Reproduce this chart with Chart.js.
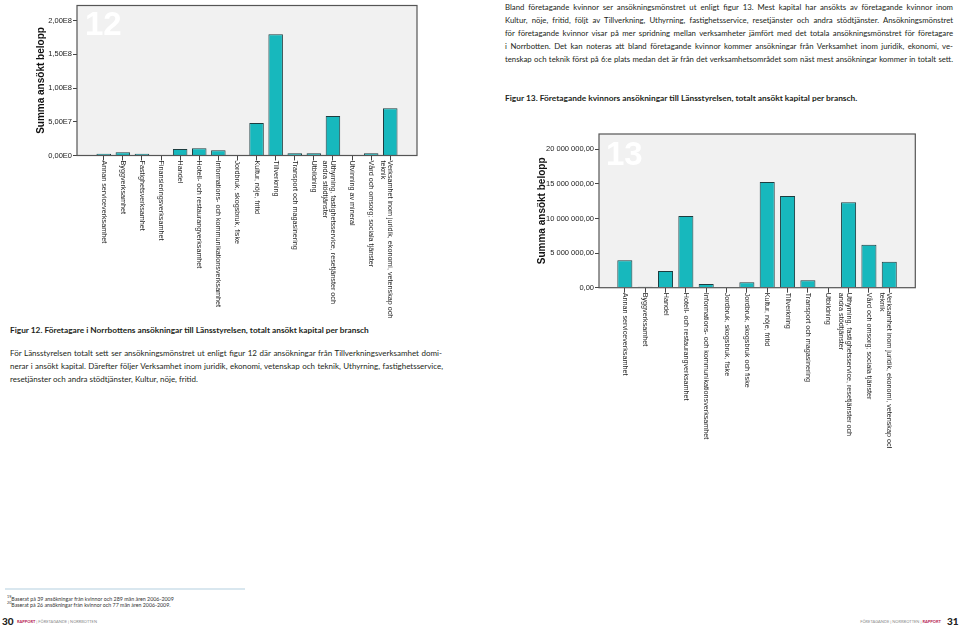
<!DOCTYPE html>
<html><head><meta charset="utf-8">
<script src="https://cdn.jsdelivr.net/npm/chart.js@4/dist/chart.umd.min.js"></script>
<style>
html,body{margin:0;padding:0;background:#fff;width:959px;height:628px;overflow:hidden;position:relative;font-family:Lato,"Noto Sans",sans-serif;color:#231f20}
.t{position:absolute;white-space:nowrap;display:inline-block;line-height:10px}
.ln{font-size:8.6px}
.cap{font-weight:bold;font-size:8.4px}
.fn{font-size:4.8px;line-height:6px;color:#333}
.box{position:absolute}
</style></head><body>

<div class="t ln" style="left:505px;top:2.3px" data-g="a" data-w="448">Bland företagande kvinnor ser ansökningsmönstret ut enligt figur 13. Mest kapital har ansökts av företagande kvinnor inom</div>
<div class="t ln" style="left:505px;top:15.2px" data-g="a" data-w="448">Kultur, nöje, fritid, följt av Tillverkning, Uthyrning, fastighetsservice, resetjänster och andra stödtjänster. Ansökningsmönstret</div>
<div class="t ln" style="left:505px;top:28.1px" data-g="a" data-w="448">för företagande kvinnor visar på mer spridning mellan verksamheter jämfört med det totala ansökningsmönstret för företagare</div>
<div class="t ln" style="left:505px;top:41px" data-g="a" data-w="448">i Norrbotten. Det kan noteras att bland företagande kvinnor kommer ansökningar från Verksamhet inom juridik, ekonomi, ve-</div>
<div class="t ln" style="left:505px;top:53.9px" data-g="a" data-w="448">tenskap och teknik först på 6:e plats medan det är från det verksamhetsområdet som näst mest ansökningar kommer in totalt sett.</div>
<div class="t cap" style="left:505px;top:93px" data-w="352" data-mode="scale">Figur 13. Företagande kvinnors ansökningar till Länsstyrelsen, totalt ansökt kapital per bransch.</div>

<div class="t cap" style="left:10px;top:325px" data-w="358" data-mode="scale">Figur 12. Företagare i Norrbottens ansökningar till Länsstyrelsen, totalt ansökt kapital per bransch</div>
<div class="t ln" style="left:10px;top:348.3px" data-g="b" data-w="432">För Länsstyrelsen totalt sett ser ansökningsmönstret ut enligt figur 12 där ansökningar från Tillverkningsverksamhet domi-</div>
<div class="t ln" style="left:10px;top:361px" data-g="b" data-w="433">nerar i ansökt kapital. Därefter följer Verksamhet inom juridik, ekonomi, vetenskap och teknik, Uthyrning, fastighetsservice,</div>
<div class="t ln" style="left:10px;top:373.7px" data-g="b">resetjänster och andra stödtjänster, Kultur, nöje, fritid.</div>

<div class="box" style="left:5px;top:588px;width:240px;height:1.5px;background:#d9e7ef"></div>
<div class="t fn" style="left:7px;top:594px" data-w="167" data-mode="scale"><sup style="font-size:0.7em">19</sup>Baserat på 39 ansökningar från kvinnor och 289 män åren 2006-2009</div>
<div class="t fn" style="left:7px;top:600px" data-w="164" data-mode="scale"><sup style="font-size:0.7em">20</sup>Baserat på 26 ansökningar från kvinnor och 77 män åren 2006-2009.</div>
<div class="t" style="left:2px;top:616px;font-size:10px;font-weight:900;color:#222">30</div>
<div class="t" style="left:17px;top:616.5px;font-size:4.6px;color:#888" data-w="80" data-mode="scale"><b style="color:#b5174f">RAPPORT</b> | FÖRETAGANDE | NORRBOTTEN</div>
<div class="t" style="right:18px;top:616.5px;font-size:4.6px;color:#888" data-w="81" data-mode="scale">FÖRETAGANDE | NORRBOTTEN | <b style="color:#b5174f">RAPPORT</b></div>
<div class="t" style="left:947px;top:616px;font-size:10px;font-weight:900;color:#222">31</div>

<div class="box" style="left:0;top:0;width:420px;height:320px"><canvas id="c12" width="420" height="320"></canvas></div>
<div class="box" style="left:520px;top:128px;width:439px;height:320px"><canvas id="c13" width="439" height="320"></canvas></div>

<script>
// ---------- Figure 12 data ----------
const cats12 = [
  "Annan serviceverksamhet","Byggverksamhet","Fastighetsverksamhet","Finansieringsverksamhet","Handel",
  "Hotell- och restaurangverksamhet","Informations- och kommunikationsverksamhet","Jordbruk, skogsbruk, fiske",
  "Kultur, nöje, fritid","Tillverkning","Transport och magasinering","Utbildning",
  ["Uthyrning, fastighetsservice, resetjänster och","andra stödtjänster"],"Utvinning av mineral",
  "Vård och omsorg; sociala tjänster",["Verksamhet inom juridik, ekonomi, vetenskap och","teknik"]
];
const values12 = [2.5e6, 4.8e6, 2.5e6, 0.3e6, 9.7e6, 10.6e6, 7.7e6, 0.8e6, 48.3e6, 179.7e6, 3.2e6, 3.2e6, 58.5e6, 0.5e6, 3.2e6, 70.0e6];
const yTicks12 = [0, 5e7, 1e8, 1.5e8, 2e8];
const yLabels12 = ["0,00E0","5,00E7","1,00E8","1,50E8","2,00E8"];

// ---------- Figure 13 data ----------
const cats13 = [
  "Annan serviceverksamhet","Byggverksamhet","Handel","Hotell- och restaurangverksamhet",
  "Informations- och kommunikationsverksamhet","Jordbruk, skogsbruk, fiske","Jordbruk, skogsbruk och fiske",
  "Kultur, nöje, fritid","Tillverkning","Transport och magasinering","Utbildning",
  ["Uthyrning, fastighetsservice, resetjänster och","andra stödtjänster"],
  "Vård och omsorg; sociala tjänster",["Verksamhet inom juridik, ekonomi, vetenskap och","teknik"]
];
const values13 = [3.95e6, 0.14e6, 2.41e6, 10.36e6, 0.53e6, 0.02e6, 0.77e6, 15.28e6, 13.25e6, 1.06e6, 0.1e6, 12.34e6, 6.22e6, 3.76e6];
const yTicks13 = [0, 5e6, 1e7, 1.5e7, 2e7];
const yLabels13 = ["0,00","5 000 000,00","10 000 000,00","15 000 000,00","20 000 000,00"];

// ---------- text fitting ----------
function fitText() {
  document.querySelectorAll('[data-mode="scale"]').forEach(el => {
    const w = +el.dataset.w;
    const nat = el.getBoundingClientRect().width;
    const fs = parseFloat(getComputedStyle(el).fontSize);
    el.style.fontSize = (fs * w / nat) + 'px';
  });
  const groups = {};
  document.querySelectorAll('[data-g]').forEach(el => { (groups[el.dataset.g] = groups[el.dataset.g] || []).push(el); });
  Object.values(groups).forEach(els => {
    const ratios = els.filter(e => e.dataset.w).map(e => +e.dataset.w / e.getBoundingClientRect().width);
    ratios.sort((a, b) => a - b);
    const r = ratios[0] * 0.985;
    els.forEach(e => { e.style.fontSize = (parseFloat(getComputedStyle(e).fontSize) * r) + 'px'; });
    els.forEach(e => {
      if (!e.dataset.w) return;
      const nat = e.getBoundingClientRect().width;
      const spaces = (e.textContent.match(/ /g) || []).length;
      if (spaces) e.style.wordSpacing = ((+e.dataset.w - nat) / spaces) + 'px';
    });
  });
}
fitText();

const FAM = '"Liberation Sans", Arial, sans-serif';

const framePlugin = {
  id: 'frame',
  beforeDraw(chart, args, opts) {
    const {ctx, chartArea: a} = chart;
    ctx.save();
    ctx.fillStyle = '#f1f1f1';
    ctx.fillRect(a.left, a.top, a.right - a.left, a.bottom - a.top);
    ctx.fillStyle = '#ffffff';
    ctx.font = 'bold 33px ' + FAM;
    ctx.textBaseline = 'top';
    ctx.textAlign = 'left';
    ctx.fillText(opts.num, a.left + opts.nx, a.top + opts.ny);
    ctx.restore();
  },
  afterDraw(chart, args, opts) {
    const {ctx, chartArea: a} = chart;
    ctx.save();
    ctx.strokeStyle = '#555';
    ctx.lineWidth = 1.2;
    ctx.strokeRect(a.left, a.top, a.right - a.left, a.bottom - a.top);
    const xs = chart.scales.x;
    ctx.fillStyle = '#222';
    ctx.font = '7.2px ' + FAM;
    ctx.textBaseline = 'middle';
    ctx.textAlign = 'left';
    opts.labels.forEach((lab, i) => {
      const x = xs.getPixelForValue(i);
      const lines = Array.isArray(lab) ? lab : [lab];
      ctx.save();
      ctx.translate(x, a.bottom + 5);
      ctx.rotate(Math.PI / 2);
      lines.forEach((t, j) => ctx.fillText(t, 0, j * 7.5));
      ctx.restore();
    });
    ctx.restore();
  }
};

function makeChart(id, cats, vals, yTicks, yLabels, cfg) {
  return new Chart(document.getElementById(id), {
    type: 'bar',
    data: {
      datasets: [{
        data: vals.map((v, i) => ({x: i, y: v})),
        backgroundColor: '#17b8bd',
        borderColor: '#1d3d40',
        borderWidth: 1,
        borderSkipped: 'start',
        categoryPercentage: 1,
        barPercentage: cfg.barPct
      }]
    },
    options: {
      responsive: false,
      animation: false,
      devicePixelRatio: 1,
      layout: {padding: cfg.pad},
      plugins: {
        legend: {display: false},
        tooltip: {enabled: false},
        frame: {num: cfg.num, nx: cfg.nx, ny: cfg.ny, labels: cats}
      },
      scales: {
        x: {
          type: 'linear',
          offset: false,
          min: cfg.xmin, max: cfg.xmax,
          afterBuildTicks: s => { s.ticks = cats.map((_, i) => ({value: i})); },
          afterFit: s => { s.height = cfg.xh; },
          ticks: {display: false, autoSkip: false},
          grid: {offset: false, drawOnChartArea: false, drawTicks: true, tickLength: 5, color: '#444', lineWidth: 1},
          border: {display: false}
        },
        y: {
          min: 0, max: cfg.ymax,
          afterBuildTicks: s => { s.ticks = yTicks.map(v => ({value: v})); },
          afterFit: s => { s.width = cfg.yw; },
          ticks: {callback: (v, i) => yLabels[i], font: {size: 7.5, family: FAM}, color: '#222', padding: 1},
          grid: {drawOnChartArea: false, drawTicks: true, tickLength: 4, color: '#444'},
          border: {display: false},
          title: {display: true, text: 'Summa ansökt belopp', color: '#111',
                  font: {size: 10, weight: 'bold', family: FAM}, padding: {top: cfg.tp, bottom: 0}}
        }
      }
    },
    plugins: [framePlugin]
  });
}

makeChart('c12', cats12, values12, yTicks12, yLabels12, {
  barPct: 0.76, pad: {left: 0, top: 1.5, right: 3, bottom: 0},
  num: '12', nx: 8, ny: 4, xmin: -1.4, xmax: 16.4, xh: 164.5, ymax: 222.4e6, yw: 77, tp: 35
});
makeChart('c13', cats13, values13, yTicks13, yLabels13, {
  barPct: 0.74, pad: {left: 0, top: 6, right: 43.7, bottom: 0},
  num: '13', nx: 7, ny: 5, xmin: -1.27, xmax: 14.28, xh: 160.3, ymax: 22.2e6, yw: 79, tp: 16
});
</script>
</body></html>
